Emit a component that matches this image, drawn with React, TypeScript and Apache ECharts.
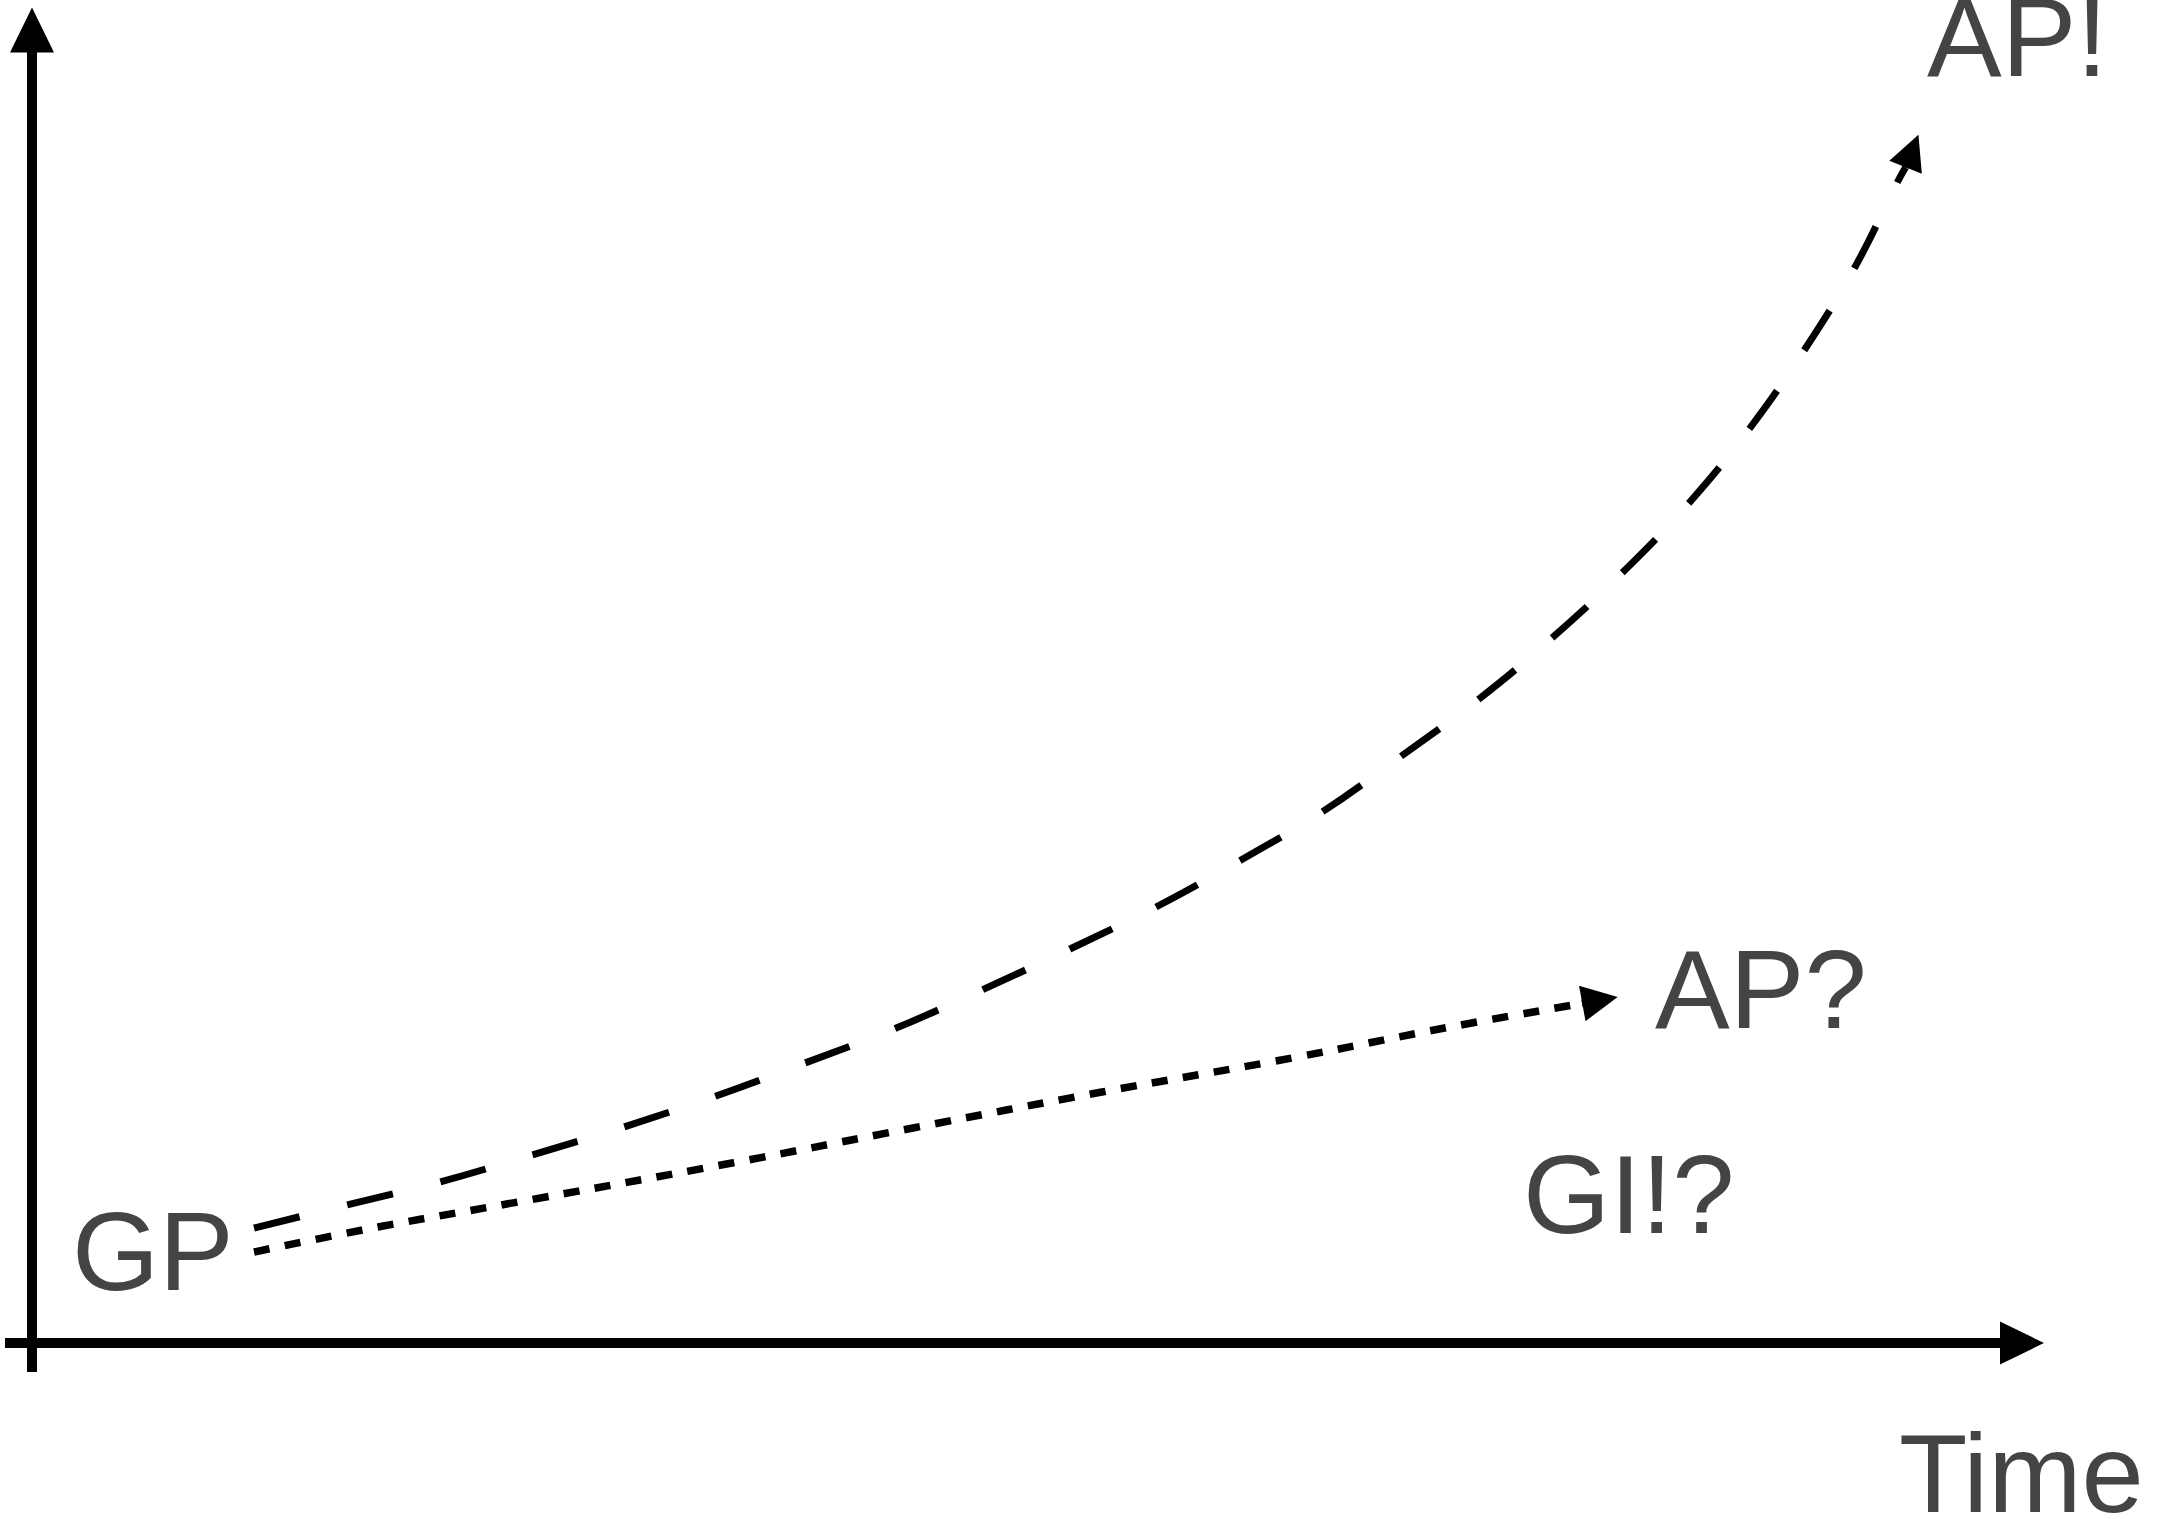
import React, { useEffect, useRef } from "react";
import * as echarts from "echarts";

// Curves, in axis units (1 unit = 100 px at this size)
const dashedCurve: [number, number][] = [
  [2.22, 1.15], [3.15, 1.38], [4.08, 1.61], [5.0, 1.88], [5.92, 2.16],
  [6.84, 2.47], [7.73, 2.8], [8.62, 3.14], [9.5, 3.53], [10.38, 3.94],
  [11.24, 4.36], [12.09, 4.83], [12.9, 5.31], [13.68, 5.86], [14.47, 6.44],
  [15.2, 7.05], [15.91, 7.71], [16.57, 8.4], [17.18, 9.15], [17.73, 9.94],
  [18.23, 10.76], [18.66, 11.62], [18.735, 11.755],
];
const dashedArrow: [number, number][] = [[18.735, 11.755], [18.8, 11.92]];

const dottedCurve: [number, number][] = [
  [2.22, 0.91], [3.46, 1.16], [4.72, 1.385], [7.0, 1.8], [8.81, 2.15],
  [10.7, 2.51], [12.6, 2.85], [14.18, 3.16], [15.5, 3.395],
];
const dottedArrow: [number, number][] = [[15.5, 3.395], [15.68, 3.428]];

const labelTexts = ["GP", "AP!", "AP?", "GI!?", "Time"];

const X_RANGE = { min: -0.27, max: 19.9 };
const Y_RANGE = { min: -0.29, max: 13.13 };

// pixel placement of the annotation texts (left edge, vertical middle)
const labelPos: [number, number][] = [
  [72, 1251],
  [1927, 37],
  [1655, 989],
  [1523, 1194],
  [1899, 1473],
];

const FONT = '"Liberation Sans", Arial, Helvetica, sans-serif';

export default function App() {
  const ref = useRef<HTMLDivElement>(null);
  useEffect(() => {
    if (!ref.current) return;
    const chart = echarts.init(ref.current, null, { renderer: "svg" });
    const arrowLine = (coords: [number, number][], size: number[]) => ({
      type: "lines",
      coordinateSystem: "cartesian2d",
      silent: true,
      polyline: false,
      symbol: ["none", "triangle"],
      symbolSize: size,
      lineStyle: { color: "#000", width: 7, opacity: 1, type: "solid", cap: "butt" },
      data: [{ coords }],
      z: 3,
    });
    chart.setOption({
      animation: false,
      backgroundColor: "#fff",
      tooltip: { show: false },
      grid: { left: 5, right: 135, top: 30, bottom: 147, containLabel: false },
      xAxis: {
        type: "value",
        min: X_RANGE.min,
        max: X_RANGE.max,
        axisLine: {
          show: true,
          onZero: true,
          symbol: ["none", "triangle"],
          symbolSize: [43, 44],
          lineStyle: { color: "#000", width: 10, cap: "butt" },
        },
        axisTick: { show: false },
        axisLabel: { show: false },
        splitLine: { show: false },
      },
      yAxis: {
        type: "value",
        min: Y_RANGE.min,
        max: Y_RANGE.max,
        axisLine: {
          show: true,
          onZero: true,
          symbol: ["none", "triangle"],
          symbolSize: [44, 45],
          lineStyle: { color: "#000", width: 10, cap: "butt" },
        },
        axisTick: { show: false },
        axisLabel: { show: false },
        splitLine: { show: false },
      },
      series: [
        {
          type: "line",
          data: dashedCurve,
          smooth: 0.4,
          symbol: "none",
          showSymbol: false,
          silent: true,
          lineStyle: { color: "#000", width: 7, type: [47, 49], cap: "butt" },
          z: 2,
        },
        {
          type: "line",
          data: dottedCurve,
          smooth: 0.4,
          symbol: "none",
          showSymbol: false,
          silent: true,
          lineStyle: { color: "#000", width: 7.5, type: [16, 15.5], cap: "butt" },
          z: 2,
        },
        arrowLine(dashedArrow, [36, 35]),
        arrowLine(dottedArrow, [33, 36]),
      ],
      graphic: labelTexts.map((t, i) => ({
        type: "text",
        x: labelPos[i][0],
        y: labelPos[i][1],
        silent: true,
        style: {
          text: t,
          fontSize: 112,
          fontFamily: FONT,
          fill: "#444",
          align: "left",
          verticalAlign: "middle",
        },
      })),
    });
    return () => chart.dispose();
  }, []);
  return (
    <div
      ref={ref}
      style={{ position: "absolute", left: 0, top: 0, width: 2157, height: 1519 }}
    />
  );
}
